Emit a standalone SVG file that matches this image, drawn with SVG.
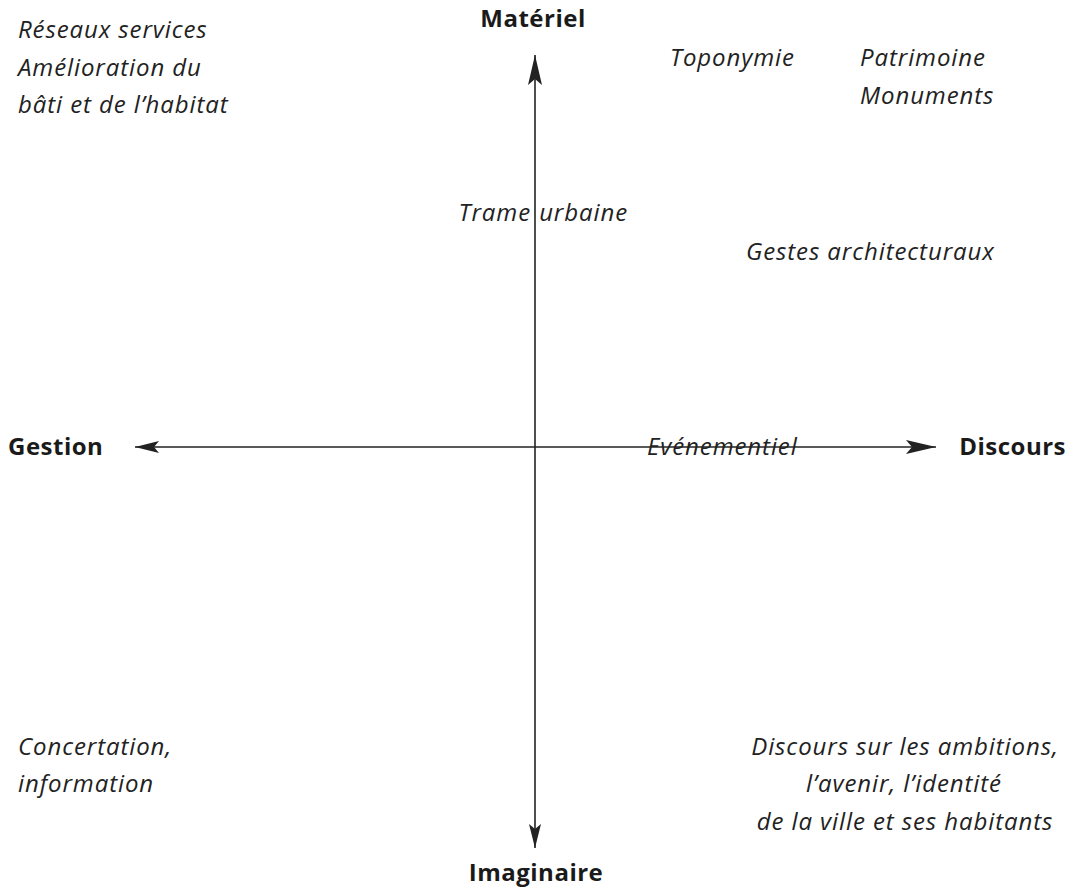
<svg xmlns="http://www.w3.org/2000/svg" width="1073" height="889" viewBox="0 0 1073 889">
<style>
.ax{font-family:"Open Sans","Liberation Sans",sans-serif;font-weight:bold;font-size:24px;letter-spacing:0.5px;fill:#1a1a1a}
.it{font-family:"Open Sans","Liberation Sans",sans-serif;font-style:italic;font-size:24px;letter-spacing:0.9px;fill:#222}
.ln{stroke:#222;stroke-width:1.6;fill:none}
</style>
<defs>
<marker id="ah" viewBox="0 0 30 14" refX="30" refY="7" markerWidth="30" markerHeight="14" markerUnits="userSpaceOnUse" orient="auto">
<path d="M0,0 L30,7 L0,14 L6,7 Z" fill="#222"/>
</marker>
<marker id="ahs" viewBox="0 0 24 12" refX="24" refY="6" markerWidth="24" markerHeight="12" markerUnits="userSpaceOnUse" orient="auto">
<path d="M0,0 L24,6 L0,12 L5,6 Z" fill="#222"/>
</marker>
</defs>
<rect width="1073" height="889" fill="#fff"/>
<g id="connectors">
<line class="ln" x1="535" y1="447" x2="535" y2="55" marker-end="url(#ah)"/>
<line class="ln" x1="535" y1="447" x2="535" y2="848" marker-end="url(#ahs)"/>
<line class="ln" x1="535" y1="447" x2="135" y2="447" marker-end="url(#ahs)"/>
<line class="ln" x1="535" y1="447" x2="936" y2="447" marker-end="url(#ah)"/>
</g>
<g id="materiel"><text class="ax" x="533" y="27" text-anchor="middle">Matériel</text></g>
<g id="imaginaire"><text class="ax" x="536" y="881" text-anchor="middle">Imaginaire</text></g>
<g id="gestion"><text class="ax" x="8" y="455">Gestion</text></g>
<g id="discours"><text class="ax" x="1066" y="455" text-anchor="end">Discours</text></g>
<g id="reseaux">
<text class="it" x="18" y="38">Réseaux services</text>
<text class="it" x="18" y="76">Amélioration du</text>
<text class="it" x="18" y="113">bâti et de l’habitat</text>
</g>
<g id="toponymie"><text class="it" x="670" y="66">Toponymie</text></g>
<g id="patrimoine">
<text class="it" x="860" y="66">Patrimoine</text>
<text class="it" x="860" y="104">Monuments</text>
</g>
<g id="trame"><text class="it" x="531" y="221" text-anchor="end">Trame<tspan x="532" text-anchor="start"> urbaine</tspan></text></g>
<g id="gestes"><text class="it" x="746" y="260">Gestes architecturaux</text></g>
<g id="evenementiel"><text class="it" x="647" y="455">Evénementiel</text></g>
<g id="concertation">
<text class="it" x="18" y="755">Concertation,</text>
<text class="it" x="18" y="792">information</text>
</g>
<g id="discours-ambitions">
<text class="it" x="905" y="755" text-anchor="middle">Discours sur les ambitions,</text>
<text class="it" x="904" y="792" text-anchor="middle">l’avenir, l’identité</text>
<text class="it" x="905" y="830" text-anchor="middle">de la ville et ses habitants</text>
</g>
</svg>
